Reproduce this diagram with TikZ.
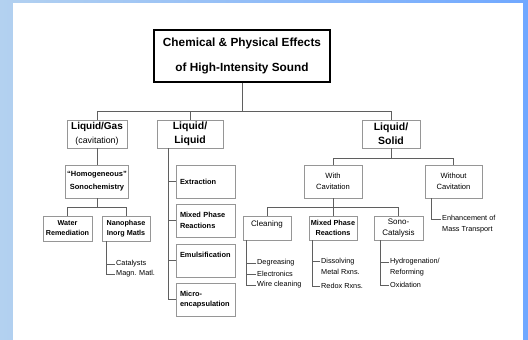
\documentclass[tikz,border=0pt]{standalone}
\usepackage{fontspec}
\setmainfont{Liberation Sans}
\definecolor{bgl}{RGB}{179,209,240}
\definecolor{bgr}{RGB}{112,168,255}
\definecolor{boxgray}{RGB}{150,150,150}
\definecolor{linegray}{RGB}{95,95,95}
\begin{document}
\begin{tikzpicture}[x=1pt,y=-1pt,
  box/.style={draw=boxgray, line width=0.7pt, fill=white, align=center, inner sep=0pt},
  lbox/.style={box, align=left, text width=#1},
  conn/.style={draw=linegray, line width=0.7pt},
  leaf/.style={anchor=west, inner sep=1pt, align=left, font=\fontsize{7.3}{11}\selectfont},
  bsmall/.style={font=\bfseries\fontsize{7.4}{10.5}\selectfont},
  rsmall/.style={font=\fontsize{7.6}{10.5}\selectfont}]
\useasboundingbox (0,0) rectangle (528,340);
\shade[left color=bgl, right color=bgr] (0,0) rectangle (528,340);
\fill[white] (13,3) rectangle (523,340);

% title
\node[box, draw=black, line width=1.3pt, minimum width=176pt, minimum height=52pt,
  font=\bfseries\fontsize{11.8}{25}\selectfont] (title) at (242,56)
  {Chemical \& Physical Effects\\of High-Intensity Sound};

% level 1
\node[box, minimum width=60pt, minimum height=28pt, font=\fontsize{10}{14}\selectfont] (lg) at (97,134)
  {\textbf{Liquid/Gas}\\{\fontsize{8.8}{14}\selectfont (cavitation)}};
\node[box, minimum width=66pt, minimum height=28pt, font=\bfseries\fontsize{10.5}{14}\selectfont] (ll) at (190,134)
  {Liquid/\\Liquid};
\node[box, minimum width=58pt, minimum height=28pt, font=\bfseries\fontsize{10.5}{14}\selectfont] (ls) at (391,134)
  {Liquid/\\Solid};

% liquid/gas branch
\node[box, minimum width=63pt, minimum height=33pt, font=\bfseries\fontsize{7.5}{13}\selectfont] (homo) at (97,181.5)
  {“Homogeneous”\\Sonochemistry};
\node[box, minimum width=49pt, minimum height=25pt, font=\bfseries\fontsize{7.2}{10}\selectfont] (water) at (67.5,228.5)
  {Water\\Remediation};
\node[box, minimum width=48pt, minimum height=25pt, font=\bfseries\fontsize{7.2}{10}\selectfont] (nano) at (126,228.5)
  {Nanophase\\Inorg Matls};
\node[leaf] (cat) at (115,264) {Catalysts};
\node[leaf] (mag) at (115,274) {Magn. Matl.};

% liquid/liquid branch
\node[lbox=51pt, bsmall, minimum width=59pt, minimum height=33pt] (extr) at (205.5,181.5) {Extraction};
\node[lbox=51pt, bsmall, minimum width=59pt, minimum height=33pt] (mix1) at (205.5,220.5) {Mixed Phase\\Reactions};
\node[lbox=51pt, bsmall, minimum width=59pt, minimum height=33pt] (emul) at (205.5,260.5) {Emulsification\\\mbox{}};
\node[lbox=51pt, bsmall, minimum width=59pt, minimum height=33pt] (micro) at (205.5,299.5) {Micro-\\encapsulation};

% liquid/solid branch
\node[box, rsmall, minimum width=58pt, minimum height=33pt] (withc) at (333,181.5) {With\\Cavitation};
\node[box, rsmall, minimum width=57pt, minimum height=33pt] (without) at (453.5,181.5) {Without\\Cavitation};
\node[leaf] (enh) at (441,224.5) {Enhancement of\\Mass Transport};

\node[box, minimum width=48pt, minimum height=24pt, font=\fontsize{8}{9}\selectfont] (clean) at (267,228) {Cleaning\\\mbox{}};
\node[box, minimum width=48pt, minimum height=24pt, font=\bfseries\fontsize{7.3}{10.5}\selectfont] (mix2) at (333,228) {Mixed Phase\\Reactions};
\node[box, minimum width=49pt, minimum height=24pt, font=\fontsize{8}{10.5}\selectfont] (sono) at (398.5,228) {Sono-\\Catalysis};

\node[leaf] (deg) at (256,263) {Degreasing};
\node[leaf] (ele) at (256,274) {Electronics};
\node[leaf] (wire) at (256,285) {Wire cleaning};
\node[leaf] (dis) at (320,266.5) {Dissolving\\Metal Rxns.};
\node[leaf] (red) at (320,286) {Redox Rxns.};
\node[leaf] (hyd) at (389,267.5) {Hydrogenation/\\Reforming};
\node[leaf] (oxi) at (389,285) {Oxidation};

% connectors
\draw[conn] (title.south) -- ++(0,29) coordinate (b1);
\draw[conn] (lg.north) |- (b1) -| (ls.north);
\draw[conn] (ll.north) -- (ll.north |- b1);

\draw[conn] (lg.south) -- (homo.north);
\draw[conn] (homo.south) -- ++(0,9) coordinate (h1);
\draw[conn] (water.north) |- (h1) -| (nano.north);
\draw[conn] ([xshift=5pt]nano.south west) |- (mag.west);
\draw[conn] (cat.west) -- ++(-8,0);

\draw[conn] ([xshift=12pt]ll.south west) |- (micro.west);
\draw[conn] (extr.west) -- ++(-7,0);
\draw[conn] (mix1.west) -- ++(-7,0);
\draw[conn] (emul.west) -- ++(-7,0);

\draw[conn] (ls.south) -- ++(0,10) coordinate (s1);
\draw[conn] (withc.north) |- (s1) -| (without.north);
\draw[conn] ([xshift=7pt]without.south west) |- ([yshift=5.5pt]enh.west);

\draw[conn] (withc.south) -- ++(0,9) coordinate (c1);
\draw[conn] (clean.north) |- (c1) -| (sono.north);
\draw[conn] (mix2.north) -- (mix2.north |- c1);

\draw[conn] ([xshift=4pt]clean.south west) |- (wire.west);
\draw[conn] (deg.west) -- ++(-9,0);
\draw[conn] (ele.west) -- ++(-9,0);
\draw[conn] ([xshift=4pt]mix2.south west) |- (red.west);
\draw[conn] ([yshift=5.5pt]dis.west) -- ++(-7,0);
\draw[conn] ([xshift=7pt]sono.south west) |- (oxi.west);
\draw[conn] ([yshift=5.5pt]hyd.west) -- ++(-8,0);
\end{tikzpicture}
\end{document}
